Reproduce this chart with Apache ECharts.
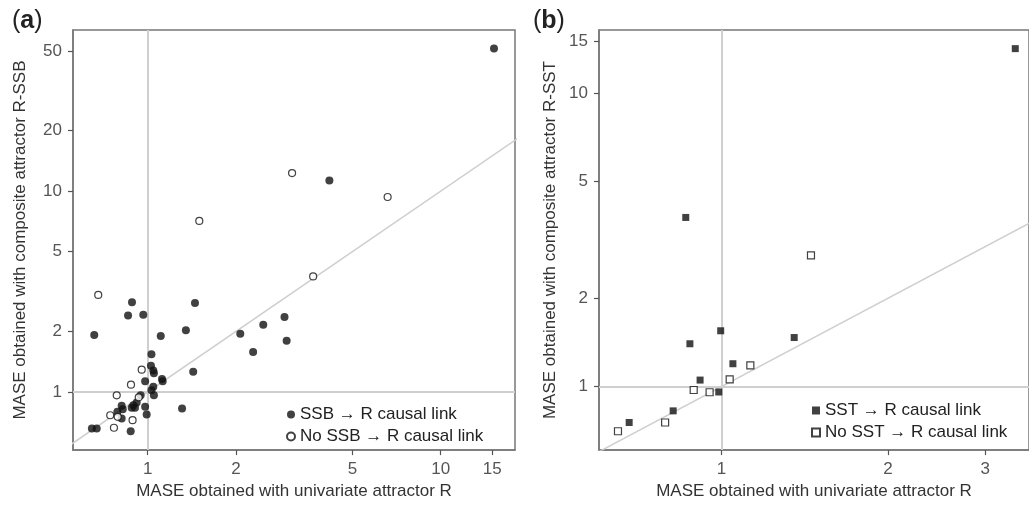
<!DOCTYPE html>
<html>
<head>
<meta charset="utf-8">
<script src="https://cdn.jsdelivr.net/npm/echarts@6/dist/echarts.min.js"></script>
<style>
  html, body { margin: 0; padding: 0; background: #fff; }
  #chart { width: 1029px; height: 505px; }
</style>
</head>
<body>
<div id="chart"></div>
<script>
// panel (a): SSB -> R, points are [univariate MASE, composite MASE]
const ssbLink = [
  [0.657, 1.92], [0.884, 2.80], [0.857, 2.40], [0.966, 2.42], [1.45, 2.77],
  [1.35, 2.03], [1.108, 1.90], [2.07, 1.95], [2.48, 2.16], [2.93, 2.36],
  [2.98, 1.80], [2.29, 1.58], [1.43, 1.26], [1.31, 0.826], [1.03, 1.54],
  [1.026, 1.35], [1.045, 1.28], [1.05, 1.24], [1.119, 1.16], [1.125, 1.13],
  [0.98, 1.13], [1.045, 1.06], [1.03, 1.02], [1.05, 0.962], [0.946, 0.962],
  [0.98, 0.843], [0.992, 0.772], [0.917, 0.885], [0.893, 0.858], [0.905, 0.833],
  [0.882, 0.833], [0.815, 0.852], [0.822, 0.82], [0.788, 0.796], [0.815, 0.737],
  [0.875, 0.637], [0.645, 0.657], [0.67, 0.657], [4.17, 11.3], [15.2, 51.3]
];
const ssbNoLink = [
  [1.50, 7.11], [3.11, 12.3], [6.59, 9.35], [3.67, 3.76], [0.678, 3.04],
  [0.954, 1.29], [0.877, 1.087], [0.784, 0.962], [0.932, 0.94], [0.745, 0.765],
  [0.79, 0.751], [0.888, 0.723], [0.767, 0.663]
];
// panel (b): SST -> R
const sstLink = [
  [3.40, 14.17], [0.862, 3.77], [0.997, 1.55], [0.877, 1.40], [1.354, 1.47],
  [1.049, 1.197], [0.915, 1.053], [0.989, 0.959], [0.818, 0.827], [0.681, 0.755]
];
const sstNoLink = [
  [1.452, 2.80], [1.128, 1.181], [1.035, 1.059], [0.891, 0.974], [0.952, 0.957],
  [0.791, 0.755], [0.65, 0.705]
];
// 1:1 line
const diagonal = [0.1, 100];

const xTicksA = [1, 2, 5, 10, 15];
const yTicksA = [1, 2, 5, 10, 20, 50];
const xTicksB = [1, 2, 3];
const yTicksB = [1, 2, 5, 10, 15];

const font = "'Liberation Sans', Arial, sans-serif";
const xTitle = 'MASE obtained with univariate attractor R';

function axis(grid, ticks, min, max, name, gap, isY) {
  return {
    type: 'log', gridIndex: grid, min: min, max: max,
    name: name, nameLocation: 'middle', nameGap: gap,
    nameTextStyle: { fontFamily: font, fontSize: 17, color: '#333' },
    axisLine: { show: true, lineStyle: { color: '#777', width: 1.5 } },
    axisTick: { show: true, length: 5, customValues: ticks, lineStyle: { color: '#555', width: 1.2 } },
    axisLabel: { customValues: ticks, margin: isY ? 11 : 11, fontFamily: font, fontSize: 17, color: '#555' },
    splitLine: { show: false },
    minorTick: { show: false }
  };
}

function refLines(grid) {
  return {
    type: 'line', xAxisIndex: grid, yAxisIndex: grid, z: 1,
    data: diagonal.map(v => [v, v]), clip: true, silent: true,
    showSymbol: false, symbol: 'none',
    lineStyle: { color: '#cfcfcf', width: 1.5 },
    markLine: {
      z: 1, silent: true, symbol: 'none', label: { show: false },
      lineStyle: { color: '#cfcfcf', width: 2, type: 'solid' },
      data: [{ xAxis: 1 }, { yAxis: 1 }]
    }
  };
}

function points(name, grid, data, symbol, size, filled) {
  return {
    name: name, type: 'scatter', xAxisIndex: grid, yAxisIndex: grid, z: 3,
    data: data, symbol: symbol, symbolSize: size,
    itemStyle: filled ? { color: '#111' } : { color: '#fff', borderColor: '#111', borderWidth: 1.2 }
  };
}

function panelLabel(letter, x) {
  return { type: 'text', left: x, top: 9, style: { text: '{p|(}{b|' + letter + '}{p|)}', rich: {
    p: { fontFamily: font, fontSize: 25, fill: '#222' },
    b: { fontFamily: font, fontSize: 25, fontWeight: 'bold', fill: '#222' } } } };
}

const chart = echarts.init(document.getElementById('chart'), null, { renderer: 'canvas' });

chart.setOption({
  animation: false,
  backgroundColor: '#fff',
  textStyle: { fontFamily: font },
  graphic: [panelLabel('a', 12), panelLabel('b', 533)],
  grid: [
    { left: 73, top: 30, width: 442, height: 422, show: true, borderColor: '#777', borderWidth: 1.5 },
    { left: 599, top: 30, width: 435, height: 422, show: true, borderColor: '#777', borderWidth: 1.5 }
  ],
  xAxis: [
    axis(0, xTicksA, 0.556, 17.93, xTitle, 32, false),
    axis(1, xTicksB, 0.6006, 3.60, xTitle, 32, false)
  ],
  yAxis: [
    axis(0, yTicksA, 0.513, 63.5, 'MASE obtained with composite attractor R-SSB', 44, true),
    axis(1, yTicksB, 0.608, 16.4, 'MASE obtained with composite attractor R-SST', 40, true)
  ],
  legend: [
    { left: 281, top: 401, orient: 'vertical', itemGap: 5, itemWidth: 8, itemHeight: 8,
      textStyle: { fontFamily: font, fontSize: 17, color: '#222' },
      data: [{ name: 'SSB \u2192 R causal link', icon: 'circle' },
             { name: 'No SSB \u2192 R causal link', icon: 'circle' }] },
    { left: 806, top: 397, orient: 'vertical', itemGap: 5, itemWidth: 8, itemHeight: 8,
      textStyle: { fontFamily: font, fontSize: 17, color: '#222' },
      data: [{ name: 'SST \u2192 R causal link', icon: 'rect' },
             { name: 'No SST \u2192 R causal link', icon: 'rect' }] }
  ],
  series: [
    refLines(0),
    refLines(1),
    points('SSB \u2192 R causal link', 0, ssbLink, 'circle', 8, true),
    points('No SSB \u2192 R causal link', 0, ssbNoLink, 'circle', 7, false),
    points('SST \u2192 R causal link', 1, sstLink, 'rect', 7, true),
    points('No SST \u2192 R causal link', 1, sstNoLink, 'rect', 7, false)
  ]
});
</script>
</body>
</html>
